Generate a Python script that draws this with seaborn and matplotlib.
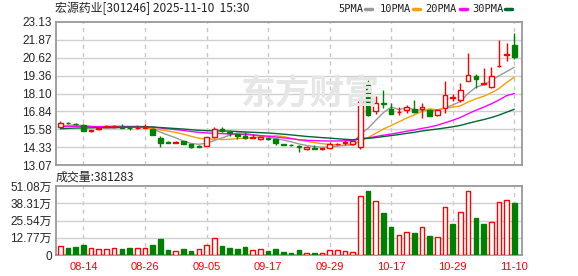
import numpy as np
import pandas as pd
import matplotlib
matplotlib.use("Agg")
import matplotlib.pyplot as plt
from matplotlib.lines import Line2D
import seaborn as sns

# ---------------- data ----------------
dates = ["08-11", "08-12", "08-13", "08-14", "08-15", "08-18", "08-19", "08-20", "08-21", "08-22",
         "08-25", "08-26", "08-27", "08-28", "08-29", "09-01", "09-02", "09-03", "09-04", "09-05",
         "09-08", "09-09", "09-10", "09-11", "09-12", "09-15", "09-16", "09-17", "09-18", "09-19",
         "09-22", "09-23", "09-24", "09-25", "09-26", "09-29", "09-30", "10-09", "10-10", "10-13",
         "10-14", "10-15", "10-16", "10-17", "10-20", "10-21", "10-22", "10-23", "10-24", "10-27",
         "10-28", "10-29", "10-30", "10-31", "11-03", "11-04", "11-05", "11-06", "11-07", "11-10"]

open_ = [15.74, 16.04, 15.98, 15.91, 15.44, 15.60, 15.75, 15.76, 15.72, 15.70,
         15.66, 15.68, 15.62, 14.98, 14.66, 14.63, 14.74, 14.55, 14.40, 14.41,
         15.02, 15.62, 15.40, 15.22, 15.14, 15.00, 14.90, 14.98, 14.88, 14.57,
         14.50, 14.40, 14.17, 14.28, 14.17, 14.24, 14.52, 14.60, 14.55, 14.31,
         18.70, 16.90, 17.40, 17.03, 16.78, 16.95, 17.00, 16.99, 16.92, 16.56,
         17.05, 17.80, 17.64, 18.98, 19.33, 18.80, 18.58, 20.00, 20.82, 21.51]
high = [16.14, 16.09, 16.02, 15.98, 15.55, 15.68, 15.88, 15.88, 15.95, 15.72,
        15.91, 15.98, 15.66, 15.11, 14.76, 14.75, 14.78, 14.56, 14.45, 15.05,
        15.72, 15.72, 15.55, 15.25, 15.40, 15.26, 15.10, 15.00, 14.90, 14.58,
        14.53, 14.48, 14.38, 14.45, 14.27, 14.71, 14.65, 14.85, 14.78, 17.69,
        19.05, 17.92, 18.35, 17.41, 17.13, 17.29, 17.64, 17.41, 16.98, 16.98,
        18.98, 18.05, 18.86, 20.97, 19.47, 19.87, 19.99, 21.86, 21.63, 22.38]
low = [15.72, 15.96, 15.89, 15.43, 15.42, 15.56, 15.72, 15.72, 15.68, 15.50,
       15.60, 15.65, 15.18, 14.31, 14.60, 14.62, 14.55, 14.30, 14.33, 14.38,
       15.00, 15.42, 15.12, 14.92, 14.92, 14.98, 14.82, 14.85, 14.48, 14.45,
       14.42, 13.96, 14.15, 14.20, 14.10, 14.17, 14.45, 14.50, 14.50, 14.22,
       16.55, 16.66, 17.06, 16.66, 16.59, 16.71, 16.71, 16.36, 16.50, 16.50,
       16.75, 17.60, 17.52, 18.95, 18.47, 18.70, 18.47, 19.98, 20.39, 20.51]
close = [16.02, 16.00, 15.92, 15.45, 15.53, 15.64, 15.82, 15.84, 15.70, 15.66,
         15.70, 15.71, 15.20, 14.65, 14.63, 14.72, 14.58, 14.34, 14.37, 15.02,
         15.62, 15.48, 15.35, 15.12, 15.00, 15.06, 15.07, 14.90, 14.62, 14.47,
         14.45, 14.33, 14.36, 14.22, 14.24, 14.55, 14.58, 14.66, 14.74, 17.69,
         16.59, 17.41, 17.36, 16.68, 16.83, 17.15, 16.83, 17.13, 16.55, 16.95,
         18.00, 17.84, 18.35, 19.40, 19.10, 18.84, 19.33, 20.06, 20.88, 20.65]
# volume in 万 (10k shares)
volume_wan = [6.66, 5.2, 5.9, 7.4, 4.9, 4.2, 4.2, 4.9, 4.4, 5.2,
              4.9, 5.2, 7.4, 11.8, 3.7, 3.0, 4.4, 3.2, 4.4, 7.4,
              12.3, 6.7, 5.4, 4.4, 5.9, 3.7, 4.2, 3.2, 4.4, 2.5,
              1.6, 3.7, 1.5, 1.5, 1.5, 3.5, 3.5, 2.7, 2.0, 43.7,
              47.4, 39.7, 31.1, 20.7, 14.6, 16.8, 16.3, 20.5, 14.1, 13.1,
              35.3, 22.9, 31.6, 47.1, 27.4, 22.9, 24.2, 39.0, 40.5, 38.1283]
# closes of the 29 sessions before the window (estimated from the MA lines' start)
hist_close = [15.20, 15.25, 15.30, 15.28, 15.35, 15.40, 15.38, 15.42, 15.40, 15.42,
              15.55, 15.60, 15.72, 15.68, 15.75, 15.70, 15.66, 15.72, 15.74, 15.78,
              15.80, 15.88, 15.90, 15.86, 15.86, 15.78, 15.72, 15.70, 15.78]

price_ticks = [13.07, 14.33, 15.58, 16.84, 18.10, 19.36, 20.62, 21.87, 23.13]
price_tick_labels = ["13.07", "14.33", "15.58", "16.84", "18.10", "19.36", "20.62", "21.87", "23.13"]
vol_ticks = [0, 12.77, 25.54, 38.31, 51.08]
vol_tick_labels = ["0", "12.77万", "25.54万", "38.31万", "51.08万"]
ma_periods = [5, 10, 20, 30]
ma_labels = ["5PMA", "10PMA", "20PMA", "30PMA"]
title_text = "宏源药业[301246] 2025-11-10  15:30"
vol_label = "成交量:381283"
watermark = "东方财富"

# ---------------- style ----------------
sns.set_style("white")
plt.rcParams['font.family'] = ['Liberation Sans', 'Noto Sans CJK SC']

RED = "#ff0000"
GREEN = "#008000"
GRID = "#d0d0d0"
SPINE = "#999999"
ma_colors = {"5PMA": "#999999", "10PMA": "#f5a000", "20PMA": "#ff00ff", "30PMA": "#006633"}

W, H = 578, 276
fig = plt.figure(figsize=(W / 100, H / 100), dpi=100)
fig.patch.set_facecolor("white")


def rect(l, t, r, b):
    return [l / W, 1 - b / H, (r - l) / W, (b - t) / H]


ax = fig.add_axes(rect(56, 22, 522, 165))
axv = fig.add_axes(rect(56, 186, 522, 255))

o = np.array(open_); h = np.array(high); l = np.array(low); c = np.array(close)
v = np.array(volume_wan)
n = len(c)
x = np.arange(n)

# moving averages
all_close = pd.Series(list(hist_close) + list(close))
ma_frames = []
for p, lab in zip(ma_periods, ma_labels):
    m = all_close.rolling(p).mean().iloc[-n:].to_numpy()
    ma_frames.append(pd.DataFrame({"x": x, "value": m, "ma": lab}))
ma_df = pd.concat(ma_frames, ignore_index=True)

# watermark
fig.text(310 / W, 1 - 93 / H, watermark, color="#e6e6e6", fontsize=25, fontweight="bold",
         family=["Noto Sans CJK SC"], ha="center", va="center", zorder=0)

# ---------------- price panel ----------------
xticks_idx = list(range(3, n, 8))
for a in (ax, axv):
    a.set_facecolor("none")
    a.set_xlim(-0.56, n - 0.0)
    for s in a.spines.values():
        s.set_color(SPINE)
        s.set_linewidth(1.3)
    a.set_xticks(xticks_idx)
    a.grid(False)
    for xi in xticks_idx:
        a.axvline(xi, color="#c8c8c8", lw=1, ls=(0, (3, 3)), zorder=1)
    a.tick_params(length=0)

ax.set_ylim(price_ticks[0], price_ticks[-1])
ax.set_yticks(price_ticks)
ax.set_yticklabels(price_tick_labels, fontsize=8.5)
ax.tick_params(axis="y", pad=3)
ax.set_xticklabels([])
for yv in price_ticks[1:-1]:
    ax.axhline(yv, color=GRID, lw=1, zorder=1)

sns.lineplot(data=ma_df, x="x", y="value", hue="ma", palette=ma_colors, hue_order=ma_labels,
             legend=False, ax=ax, linewidth=1.0, zorder=2)
ax.set_xlabel("")
ax.set_ylabel("")

up = c >= o
dn = ~up
bw = 0.6
body = np.maximum(np.abs(c - o), 0.012)
# up candles: hollow red
ax.vlines(x[up], l[up], o[up], color=RED, lw=1, zorder=3)
ax.vlines(x[up], c[up], h[up], color=RED, lw=1, zorder=3)
ax.bar(x[up], body[up], bottom=o[up], width=bw, facecolor="white", edgecolor=RED, lw=1, zorder=4)
# down candles: filled green
ax.vlines(x[dn], l[dn], h[dn], color=GREEN, lw=1, zorder=3)
ax.bar(x[dn], body[dn], bottom=c[dn], width=bw, facecolor=GREEN, edgecolor=GREEN, lw=1, zorder=4)

# ---------------- volume panel ----------------
prev_c = np.r_[hist_close[-1], c[:-1]]
vup = c >= prev_c
axv.set_ylim(vol_ticks[0], vol_ticks[-1])
axv.set_yticks(vol_ticks)
axv.set_yticklabels(vol_tick_labels, fontsize=8.5)
axv.tick_params(axis="y", pad=3)
for yv in vol_ticks[1:-1]:
    axv.axhline(yv, color=GRID, lw=1, zorder=1)
axv.bar(x[vup], v[vup], width=bw, facecolor="white", edgecolor=RED, lw=1, zorder=3)
axv.bar(x[~vup], v[~vup], width=bw, facecolor=GREEN, edgecolor=GREEN, lw=1, zorder=3)
axv.set_xticklabels([dates[i] for i in xticks_idx], fontsize=8)
axv.tick_params(axis="x", labelcolor=RED, pad=5)

# ---------------- texts ----------------
fig.text(55 / W, 1 - 8.5 / H, title_text, fontsize=8.6, family=["Noto Sans CJK SC"],
         ha="left", va="center", color="#222222")
fig.text(56 / W, 1 - 177 / H, vol_label, fontsize=8.6, family=["Noto Sans CJK SC"],
         ha="left", va="center", color="#222222")

leg_text_x = [338, 380, 425, 472]
leg_dash_x = [365, 413, 460, 505]
for lab, tx, dx in zip(ma_labels, leg_text_x, leg_dash_x):
    fig.text(tx / W, 1 - 8.5 / H, lab, fontsize=7.5, family=["DejaVu Sans Mono"],
             ha="left", va="center", color="#222222")
    fig.add_artist(Line2D([dx / W, (dx + 7) / W], [1 - 9 / H, 1 - 9 / H],
                          color=ma_colors[lab], lw=2.5, transform=fig.transFigure))

fig.savefig("out.png", dpi=100, facecolor="white")
